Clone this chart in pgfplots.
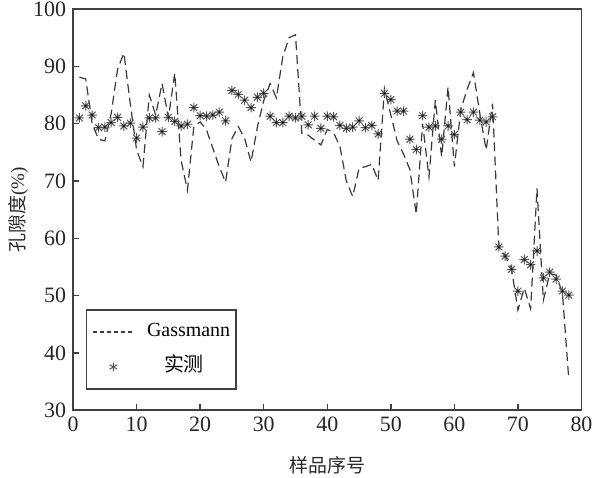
\documentclass[border=0pt]{standalone}
\usepackage{fontspec}
\setmainfont{Liberation Serif}
\newfontfamily\cjk{Noto Sans CJK SC}
\usepackage{pgfplots}
\pgfplotsset{compat=1.18}

\definecolor{axgray}{HTML}{404040}
\definecolor{lngray}{HTML}{3A3A3A}
\definecolor{mkgray}{HTML}{555555}

% eight-armed asterisk with a dark centre, like the measured points
\pgfdeclareplotmark{ast8}{%
  \pgfpathmoveto{\pgfqpoint{-\pgfplotmarksize}{0pt}}\pgfpathlineto{\pgfqpoint{\pgfplotmarksize}{0pt}}%
  \pgfpathmoveto{\pgfqpoint{0pt}{-\pgfplotmarksize}}\pgfpathlineto{\pgfqpoint{0pt}{\pgfplotmarksize}}%
  \pgfpathmoveto{\pgfqpoint{-0.707\pgfplotmarksize}{-0.707\pgfplotmarksize}}\pgfpathlineto{\pgfqpoint{0.707\pgfplotmarksize}{0.707\pgfplotmarksize}}%
  \pgfpathmoveto{\pgfqpoint{-0.707\pgfplotmarksize}{0.707\pgfplotmarksize}}\pgfpathlineto{\pgfqpoint{0.707\pgfplotmarksize}{-0.707\pgfplotmarksize}}%
  \pgfusepathqstroke
  \pgfpathcircle{\pgfpointorigin}{0.5pt}\pgfusepathqfill
}

\pgfplotstableread{
x y
1 88.1
2 87.8
3 80.0
4 77.3
5 77.0
6 81.8
7 89.5
8 92.3
9 83.5
10 75.4
11 72.5
12 85.0
13 81.5
14 87.0
15 81.0
16 88.8
17 73.6
18 68.4
19 79.5
20 80.3
21 78.9
22 75.7
23 72.5
24 69.8
25 77.4
26 79.5
27 77.4
28 73.3
29 79.4
30 84.0
31 87.0
32 84.5
33 91.7
34 95.0
35 95.5
36 78.3
37 78.0
38 77.1
39 76.3
40 79.0
41 78.4
42 76.0
43 70.0
44 67.3
45 72.2
46 72.5
47 72.9
48 70.1
49 86.1
50 81.5
51 77.0
52 74.7
53 72.0
54 64.2
55 80.0
56 70.7
57 84.1
58 74.2
59 86.4
60 72.5
61 82.4
62 86.0
63 88.9
64 81.8
65 75.4
66 83.5
67 58.5
68 57.0
69 54.6
70 47.5
71 51.3
72 47.7
73 68.7
74 49.2
75 53.8
76 53.6
77 50.5
78 35.4
}\gassmann

\pgfplotstableread{
x y
1 81.0
2 83.1
3 81.5
4 79.3
5 79.4
6 80.2
7 81.1
8 79.6
9 80.1
10 77.5
11 79.4
12 81.0
13 81.0
14 78.6
15 81.1
16 80.4
17 79.6
18 79.9
19 82.8
20 81.4
21 81.3
22 81.5
23 82.0
24 80.5
25 85.8
26 85.1
27 84.1
28 82.8
29 84.6
30 85.3
31 81.3
32 80.2
33 80.2
34 81.3
35 81.0
36 81.3
37 79.8
38 81.3
39 79.2
40 81.3
41 81.2
42 79.7
43 79.2
44 79.4
45 80.5
46 79.3
47 79.7
48 78.2
49 85.3
50 84.2
51 82.2
52 82.2
53 77.3
54 75.5
55 81.4
56 79.4
57 79.6
58 77.3
59 79.6
60 78.1
61 82.0
62 80.7
63 82.0
64 80.6
65 80.3
66 81.2
67 58.5
68 56.9
69 54.6
70 50.8
71 56.3
72 55.4
73 57.8
74 53.1
75 54.1
76 52.9
77 50.8
78 50.1
}\measured

\begin{document}
\begin{tikzpicture}
\begin{axis}[
  scale only axis, width=254bp, height=200.5bp,
  xmin=0, xmax=80, ymin=30, ymax=100,
  xtick={0,10,...,80}, ytick={30,40,...,100},
  tick align=inside, xtick pos=bottom, ytick pos=left,
  major tick length=3bp,
  axis line style={axgray, line width=0.9bp},
  tick style={axgray, line width=0.7bp},
  tick label style={font=\fontsize{11}{13}\selectfont, text=black!85},
  /pgf/number format/assume math mode=true,
  xlabel={{\cjk 样品序号}},
  ylabel={{\cjk 孔隙度}(\%)},
  label style={font=\fontsize{9.5}{11}\selectfont, text=black!85},
  xlabel style={at={(axis description cs:0.5,-0.137)}, anchor=center},
  ylabel style={at={(axis description cs:-0.108,0.5)}, anchor=center},
  legend style={at={(axis description cs:0.0256,0.252)}, anchor=north west,
    draw=axgray, line width=0.7bp, font=\fontsize{10}{12}\selectfont,
    inner xsep=3bp, inner ysep=6.5bp, row sep=8.5bp, column sep=6.5bp,
    nodes={inner sep=0pt, text height=7bp, text depth=2bp}},
  legend cell align=left,
]
\addplot[lngray, line width=0.6bp, dash pattern=on 4.5bp off 2.5bp,
  legend image code/.code={\draw[lngray, line width=0.6bp, dash pattern=on 2bp off 1.5bp] (0bp,0bp) -- (20bp,0bp);}]
  table[x=x, y=y] {\gassmann};
\addlegendentry{Gassmann\hspace{3bp}}
\addplot[only marks, mark=ast8, mark size=2.4bp, mark options={draw=mkgray, fill=black, line width=0.5bp},
  legend image code/.code={\draw[mkgray, line width=0.5bp] plot[mark=asterisk, mark size=2.2bp] coordinates {(10bp,0bp)};}]
  table[x=x, y=y] {\measured};
\addlegendentry{\hspace{8.5bp}{\cjk 实测}}
\end{axis}
\pgfresetboundingbox
\path ([xshift=-36.5bp, yshift=-33.5bp]current axis.south west) rectangle ([xshift=5.75bp, yshift=4.5bp]current axis.north east);
\end{tikzpicture}
\end{document}
